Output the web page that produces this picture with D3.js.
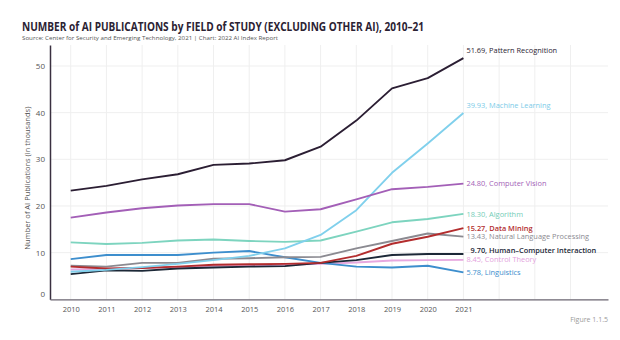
<!DOCTYPE html>
<html>
<head>
<meta charset="utf-8">
<script src="https://cdn.jsdelivr.net/npm/d3@7/dist/d3.min.js"></script>
<style>
  html, body { margin: 0; padding: 0; background: #ffffff; }
  svg { display: block; font-family: "Open Sans", "Noto Sans", sans-serif; }
</style>
</head>
<body>
<svg id="chart" width="620" height="340"></svg>
<script>
// AI publications by field of study, in thousands
const years = [2010, 2011, 2012, 2013, 2014, 2015, 2016, 2017, 2018, 2019, 2020, 2021];
const fields = ["Pattern Recognition", "Machine Learning", "Computer Vision", "Algorithm",
  "Data Mining", "Natural Language Processing", "Human–Computer Interaction",
  "Control Theory", "Linguistics"];
const patternRecognition = [23.3, 24.3, 25.7, 26.8, 28.8, 29.1, 29.8, 32.7, 38.3, 45.2, 47.4, 51.69];
const machineLearning   = [5.9, 6.3, 6.9, 7.6, 8.4, 9.3, 10.9, 13.8, 19.1, 27.1, 33.4, 39.93];
const computerVision    = [17.5, 18.6, 19.5, 20.1, 20.4, 20.4, 18.8, 19.3, 21.4, 23.6, 24.1, 24.80];
const algorithm         = [12.2, 11.85, 12.1, 12.6, 12.8, 12.5, 12.3, 12.6, 14.5, 16.5, 17.2, 18.30];
const dataMining        = [7.0, 6.6, 6.7, 7.0, 7.4, 7.5, 7.6, 7.8, 9.3, 11.9, 13.4, 15.27];
const nlp               = [7.2, 7.0, 7.8, 7.8, 8.7, 8.8, 9.0, 9.1, 10.9, 12.5, 14.1, 13.43];
const hci               = [5.4, 6.2, 6.1, 6.6, 6.8, 7.0, 7.1, 7.8, 8.4, 9.5, 9.7, 9.70];
const controlTheory     = [6.4, 6.5, 6.7, 6.9, 7.2, 7.3, 7.4, 7.6, 7.9, 8.3, 8.4, 8.45];
const linguistics       = [8.6, 9.5, 9.5, 9.5, 10.0, 10.35, 9.0, 7.8, 7.0, 6.8, 7.2, 5.78];
const yTicks = [0, 10, 20, 30, 40, 50];

const seriesValues = [patternRecognition, machineLearning, computerVision, algorithm,
  dataMining, nlp, hci, controlTheory, linguistics];

// Presentation per series: colour, label weight, vertical label nudge
const styles = [
  { color: "#2b1e33", labelColor: "#2b1e33", weight: 500, dy: -8 },
  { color: "#80d0ec", labelColor: "#7ccbe8", weight: 400, dy: -8 },
  { color: "#a35fb7", labelColor: "#a35fb7", weight: 400, dy: 0 },
  { color: "#7dd4bf", labelColor: "#74cdb7", weight: 400, dy: 0 },
  { color: "#b32d2e", labelColor: "#b32d2e", weight: 600, dy: 0 },
  { color: "#8b8a91", labelColor: "#8b8a91", weight: 400, dy: 0 },
  { color: "#1c2837", labelColor: "#1c2837", weight: 600, dy: -4, dx: 4 },
  { color: "#e7a8df", labelColor: "#e3a2dc", weight: 400, dy: 0 },
  { color: "#3d8ecd", labelColor: "#3d8ecd", weight: 500, dy: 0 }
];

const svg = d3.select("#chart");
const x = d3.scaleLinear().domain([2009.42, 2025.05]).range([50, 608]);
const y = d3.scaleLinear().domain([0, 54.5]).range([299.3, 45]);

// Title block
svg.append("text").attr("x", 22).attr("y", 31)
  .attr("font-size", 12.5).attr("font-weight", 700).attr("fill", "#2b2233")
  .attr("textLength", 402).attr("lengthAdjust", "spacingAndGlyphs")
  .text("NUMBER of AI PUBLICATIONS by FIELD of STUDY (EXCLUDING OTHER AI), 2010–21");
svg.append("text").attr("x", 22).attr("y", 40)
  .attr("font-size", 6).attr("fill", "#555")
  .attr("textLength", 256).attr("lengthAdjust", "spacingAndGlyphs")
  .text("Source: Center for Security and Emerging Technology, 2021 | Chart: 2022 AI Index Report");

// Grid
const gridYears = d3.range(2010, 2025);
svg.append("g").selectAll("line").data(gridYears).join("line")
  .attr("x1", d => x(d)).attr("x2", d => x(d))
  .attr("y1", y.range()[1]).attr("y2", y(0))
  .attr("stroke", "#efefef").attr("stroke-width", 1);
svg.append("g").selectAll("line").data(yTicks.slice(1)).join("line")
  .attr("x1", x.range()[0]).attr("x2", x.range()[1])
  .attr("y1", d => y(d)).attr("y2", d => y(d))
  .attr("stroke", "#efefef").attr("stroke-width", 1);

// Axes
const yAxis = svg.append("g").attr("transform", `translate(${x.range()[0]},0)`)
  .call(d3.axisLeft(y).tickValues(yTicks).tickSize(0).tickPadding(5).tickFormat(d3.format("d")));
yAxis.select(".domain").attr("stroke", "#3a3040").attr("stroke-width", 1.5);
yAxis.selectAll("text").attr("font-size", 8).attr("fill", "#555").attr("font-family", "Open Sans, sans-serif");
yAxis.selectAll(".tick").filter(d => d === 0).select("text").attr("dy", "-0.4em");

const xAxis = svg.append("g").attr("transform", `translate(0,${y(0)})`)
  .call(d3.axisBottom(x).tickValues(years).tickSize(0).tickPadding(7).tickFormat(d3.format("d")));
xAxis.select(".domain").attr("stroke", "#6a6470").attr("stroke-width", 1.2);
xAxis.selectAll("text").attr("font-size", 7.5).attr("fill", "#555").attr("font-family", "Open Sans, sans-serif");

svg.append("text")
  .attr("transform", `translate(30,${(y(0) + y.range()[1]) / 2 + 6}) rotate(-90)`)
  .attr("text-anchor", "middle").attr("font-size", 7.5).attr("fill", "#555")
  .text("Number of AI Publications (in thousands)");

// Lines
const line = d3.line().x((d, i) => x(years[i])).y(d => y(d)).curve(d3.curveLinear);
const drawOrder = [7, 8, 5, 6, 4, 3, 1, 2, 0];
svg.append("g").selectAll("path").data(drawOrder).join("path")
  .attr("d", k => line(seriesValues[k]))
  .attr("fill", "none")
  .attr("stroke", k => styles[k].color)
  .attr("stroke-width", 1.9)
  .attr("stroke-linejoin", "round");

// End labels
const last = years.length - 1;
svg.append("g").selectAll("text").data(fields).join("text")
  .attr("x", (d, k) => x(years[last]) + 3 + (styles[k].dx || 0))
  .attr("y", (d, k) => y(seriesValues[k][last]) + styles[k].dy)
  .attr("dy", "0.35em")
  .attr("font-size", 7.4)
  .attr("font-weight", (d, k) => styles[k].weight)
  .attr("fill", (d, k) => styles[k].labelColor)
  .text((d, k) => `${seriesValues[k][last].toFixed(2)}, ${d}`);

svg.append("text").attr("x", 608).attr("y", 322).attr("text-anchor", "end")
  .attr("font-size", 7).attr("fill", "#9a9a9a").text("Figure 1.1.5");
</script>
</body>
</html>
